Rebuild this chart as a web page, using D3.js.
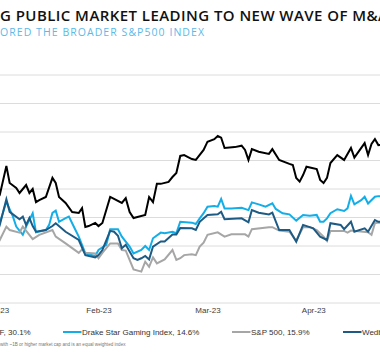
<!DOCTYPE html>
<html><head><meta charset="utf-8">
<script src="https://cdn.jsdelivr.net/npm/d3@7"></script>
<style>html,body{margin:0;padding:0;background:#fff;overflow:hidden}</style>
</head><body>
<svg id="c" width="380" height="360"></svg>
<script>
// ---- data (x = day of 2023, Jan 1 = 0; values = index level) ----
const monthDays = [0, 31, 59, 90];
const monthLabels = ["Jan-23", "Feb-23", "Mar-23", "Apr-23"];
const gridValues = [60, 70, 80, 90, 100, 110, 120, 130, 140];

const etfDay = [0,1,3,4,6,7,9,10,11,12,13,15,17,18,19,21,23,25,26,27,28,30,31,32,34,35,37,38,39,40,41,43,44,45,46,47,49,50,51,52,53,54,55,56,58,59,61,62,63,64,67,69,70,71,72,74,77,78,80,83,84,85,86,87,88,91,92,93,94,95,97,99,101,102,105,106,107,108,109,110];
const etfVal = [96.0,97.9,108.1,102.1,100.4,98.6,101.4,98.6,100.0,95.4,96.1,97.2,103.9,102.1,97.2,95.1,91.9,91.6,93.3,86.7,87.0,88.1,87.0,88.1,97.2,96.5,95.1,96.8,91.9,89.8,90.2,90.9,97.2,95.4,101.8,101.8,102.5,104.2,105.6,111.6,111.9,111.2,110.5,110.2,113.7,116.6,117.5,118.6,118.0,114.4,114.7,115.2,113.7,110.2,114.0,113.1,112.3,114.0,110.2,108.8,108.4,103.9,102.6,104.9,107.8,107.0,103.2,102.1,103.9,109.1,111.9,110.2,114.4,111.0,116.1,111.9,115.8,117.5,115.4,115.5];

const drakeDay = [0,1,3,5,6,8,9,11,12,15,16,17,18,19,21,22,24,25,27,30,31,33,34,36,37,39,40,42,43,44,45,47,48,50,51,52,55,56,57,58,59,61,62,63,64,66,69,71,72,74,76,78,79,81,83,85,87,89,91,92,93,94,95,97,99,100,101,102,104,105,106,108,109,110];
const drakeVal = [86.0,88.1,95.5,90.3,86.8,83.9,86.8,91.5,84.8,85.6,87.4,91.6,92.4,88.5,89.8,90.3,85.6,83.3,77.4,76.5,78.6,80.4,85.9,85.9,83.3,79.8,77.4,78.6,80.0,78.6,82.7,84.7,84.5,85.0,84.5,88.5,88.2,87.7,89.7,91.5,93.8,94.0,93.8,96.5,93.2,93.2,93.4,92.6,95.3,94.6,93.8,95.0,93.0,91.5,91.1,88.9,90.9,90.6,90.9,88.5,88.5,89.7,91.5,92.9,92.3,93.2,97.6,94.6,96.1,97.3,94.9,97.3,97.5,97.5];

const spDay = [0,1,3,4,7,8,11,13,17,18,21,25,26,27,30,31,32,34,36,37,38,40,42,43,44,45,46,48,50,51,52,53,55,56,57,58,59,62,64,66,70,71,72,77,78,80,83,85,87,89,91,93,94,95,99,100,101,106,107,108,109,110];
const spVal = [80.0,82.1,86.8,85.6,84.7,86.8,82.4,83.9,85.6,83.3,80.9,77.6,78.8,77.6,77.4,75.7,77.6,80.9,80.9,78.6,78.4,71.8,71.0,74.5,72.7,76.0,73.9,75.3,78.6,75.1,75.7,76.8,77.1,76.8,79.8,81.2,83.9,84.8,83.3,84.1,84.1,83.3,85.9,86.6,86.6,85.4,85.0,81.9,86.6,86.6,85.6,83.3,81.8,85.3,85.3,84.7,85.4,84.8,83.9,88.0,88.2,88.2];

const wedDay = [0,1,3,4,7,8,9,10,11,12,15,17,18,21,25,27,30,31,32,34,35,36,37,38,40,41,42,43,44,45,47,48,50,51,52,55,56,57,59,62,63,64,69,71,72,74,77,78,80,83,85,87,90,92,94,95,98,99,101,102,105,106,108,109,110];
const wedVal = [84.0,87.4,96.4,92.0,89.4,90.3,87.4,89.8,87.0,85.0,85.6,87.0,88.0,85.0,82.1,76.8,76.0,76.8,78.6,85.3,85.0,83.6,79.2,80.4,75.7,75.1,75.7,76.5,75.3,79.8,81.6,81.6,84.0,84.0,86.3,86.2,85.6,88.5,90.9,91.1,92.0,89.4,89.7,88.3,92.6,91.7,91.1,91.7,85.6,85.6,81.5,87.4,86.2,83.3,82.1,88.0,87.4,85.9,88.5,85.0,86.2,85.0,89.1,88.5,88.5];

const legendNames = ["F, 30.1%", "Drake Star Gaming Index, 14.6%", "S&P 500, 15.9%", "Wedbush Video Game Index"];
const seriesColors = ["#000000", "#13aee8", "#a6a6a6", "#1e5b84"];

// ---- drawing ----
const svg = d3.select("#c");
const x = d3.scaleLinear().domain([0, 31, 59, 90, 120]).range([-3.5, 98.5, 207.5, 313.3, 416]);
const y = d3.scaleLinear().domain([60, 140]).range([303, 75]);

svg.append("text").attr("x", 0).attr("y", 20.7)
  .attr("font-family", "'Open Sans', sans-serif").attr("font-weight", 600).attr("font-size", 15)
  .attr("fill", "#111").attr("textLength", 388).attr("lengthAdjust", "spacing")
  .text("G PUBLIC MARKET LEADING TO NEW WAVE OF M&A");
svg.append("text").attr("x", 0).attr("y", 35.7)
  .attr("font-family", "'Open Sans', sans-serif").attr("font-weight", 400).attr("font-size", 10.5)
  .attr("fill", "#5cb9e8").attr("textLength", 204).attr("lengthAdjust", "spacing")
  .text("ORED THE BROADER S&P500 INDEX");

svg.append("g").selectAll("line").data(gridValues).join("line")
  .attr("x1", 0).attr("x2", 380).attr("y1", d => y(d)).attr("y2", d => y(d))
  .attr("stroke", "#dcdcdc").attr("stroke-width", 1);

const xAxis = d3.axisBottom(x).tickValues(monthDays).tickSize(0).tickPadding(0)
  .tickFormat((d, i) => monthLabels[i]);
const ax = svg.append("g").attr("transform", "translate(0,307)").call(xAxis);
ax.select(".domain").remove();
ax.selectAll("text").attr("font-family", "'Liberation Sans', Arial, sans-serif")
  .attr("font-size", 8).attr("fill", "#404040").attr("dy", "0.71em");

const series = [
  {d: etfDay, v: etfVal},
  {d: drakeDay, v: drakeVal},
  {d: spDay, v: spVal},
  {d: wedDay, v: wedVal}
];
const line = d3.line().x(p => x(p[0])).y(p => y(p[1]));
series.forEach((s, i) => {
  const pts = s.d.map((dd, k) => [dd, s.v[k]]);
  svg.append("path").datum(pts).attr("d", line)
    .attr("fill", "none").attr("stroke", seriesColors[i])
    .attr("stroke-width", 2).attr("stroke-linejoin", "miter");
});

// legend
const legendX = [-60, 63, 232, 343];
const lg = svg.append("g").attr("font-family", "'Liberation Sans', Arial, sans-serif").attr("font-size", 8).attr("fill", "#333");
legendNames.forEach((n, i) => {
  if (i > 0) {
    lg.append("line").attr("x1", legendX[i]).attr("x2", legendX[i] + 18.5)
      .attr("y1", 332).attr("y2", 332).attr("stroke", seriesColors[i]).attr("stroke-width", 2);
    lg.append("text").attr("x", legendX[i] + 19).attr("y", 335).text(n);
  } else {
    lg.append("text").attr("x", 30.7).attr("y", 335).attr("text-anchor", "end").text(n);
  }
});

svg.append("text").attr("x", 0).attr("y", 346)
  .attr("font-family", "'Liberation Sans', Arial, sans-serif").attr("font-size", 4.6).attr("fill", "#777")
  .text("with ~1B or higher market cap and is an equal weighted index");
</script>
</body></html>
